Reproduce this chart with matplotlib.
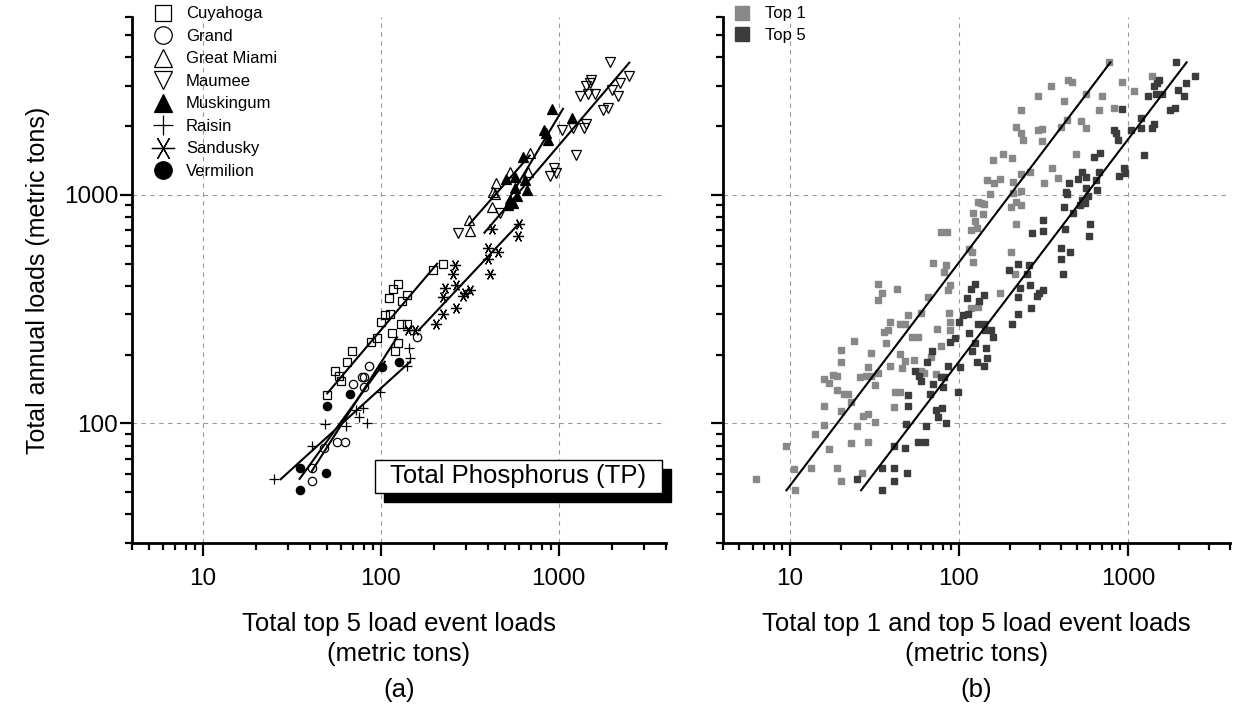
import numpy as np
import matplotlib.pyplot as plt
from matplotlib.ticker import FixedLocator, LogLocator, FuncFormatter, NullFormatter
from matplotlib.patches import Rectangle

plt.rcParams['font.family'] = ['Liberation Sans', 'DejaVu Sans']

# ---- panel (a): top 5 event loads vs annual loads, per river (metric tons)
cuyahoga_x = [224, 197, 125, 117, 111, 131, 140, 105, 113, 100, 130, 140, 115, 95, 88, 125, 120, 69, 65, 55, 58, 60, 50]
cuyahoga_y = [500, 470, 406, 388, 354, 343, 366, 297, 301, 278, 271, 271, 249, 236, 228, 225, 208, 208, 185, 169, 161, 154, 133]

grand_x = [78, 81, 86, 70, 80, 159, 57, 63, 48, 41, 41]
grand_y = [159, 159, 178, 149, 145, 238, 83, 83, 78, 64, 56]

great_miami_x = [316, 314, 419, 437, 446, 531, 687, 672, 428]
great_miami_y = [697, 777, 889, 1010, 1125, 1257, 1523, 1253, 1034]

maumee_x = [272, 470, 890, 944, 960, 1242, 1420, 1390, 1200, 1040, 1780, 1890, 1310, 1460, 1600, 1430,
            1490, 1520, 1980, 2160, 2200, 1930, 2490]
maumee_y = [683, 830, 1204, 1309, 1250, 1496, 2050, 1960, 1960, 1930, 2360, 2400, 2700, 2750, 2750, 2990,
            3100, 3180, 2870, 2700, 3100, 3800, 3310]

muskingum_x = [922, 1190, 850, 870, 632, 508, 567, 645, 660, 567, 531, 554, 518, 580, 830]
muskingum_y = [2380, 2160, 1870, 1740, 1470, 1170, 1200, 1160, 1050, 1070, 950, 920, 900, 990, 1930]

raisin_x = [99, 79, 73, 75, 84, 64, 48.5, 41, 25, 140, 144, 146]
raisin_y = [137, 117, 115, 107, 100, 97, 99, 80, 57, 178, 213, 193]

sandusky_x = [260, 254, 229, 264, 224, 296, 316, 290, 266, 224, 205, 155, 142, 423, 400, 456, 400, 413, 600, 592]
sandusky_y = [493, 449, 391, 402, 357, 372, 385, 360, 320, 301, 271, 256, 256, 707, 583, 564, 524, 449, 745, 663]

vermilion_x = [35, 35, 49, 50, 67, 101, 127]
vermilion_y = [64, 51, 61, 119, 135, 176, 186]

# ---- panel (b): top 1 event loads vs annual loads (top 5 = all rivers of panel a)
top1_x = [771, 442, 468, 352, 294, 419, 563, 699, 916, 1090, 676, 829, 234, 218, 232, 239, 294, 308, 310, 403,
          438, 526, 563, 495, 357, 383, 318, 262, 234, 208, 234, 208, 182, 206, 159, 147, 162, 176, 152, 218,
          234, 204, 129, 135, 140, 121, 138, 125, 117, 128, 78, 85, 218, 204, 215, 115, 119, 121, 70, 84,
          81, 89, 86, 176, 1380,
          33, 35, 33, 43, 66, 129, 60, 50, 39, 36, 38, 45, 48, 37, 24, 20, 20, 30, 29, 33,
          39, 45, 48, 46, 53, 57, 74, 78, 87, 88, 89, 62, 68, 54, 73, 26, 28, 30, 32, 16,
          17, 18, 19, 19, 21, 22, 23, 16, 20, 27, 29, 32, 25, 16, 14, 17, 9.5, 10.5, 13.4, 19,
          20, 26.5, 23, 29, 10.7, 6.3, 41, 42, 45, 60, 118]
top1_y = [3800, 3170, 3110, 2985, 2715, 2565, 2750, 2715, 3110, 2840, 2360, 2400, 2345, 1972, 1862, 1740, 1927, 1941, 1713, 1972,
          2131, 2098, 1960, 1513, 1310, 1183, 1132, 1253, 1236, 1144, 1045, 1024, 1507, 1449, 1414, 1156, 1125, 1175, 1010, 935,
          904, 889, 935, 919, 910, 837, 826, 771, 703, 714, 686, 686, 746, 563, 451, 578, 560, 511, 502, 493,
          461, 403, 385, 373, 3300,
          407, 371, 347, 388, 359, 323, 303, 297, 279, 250, 257, 273, 273, 226, 230, 210, 186, 203, 177, 166,
          179, 201, 188, 174, 240, 238, 258, 218, 303, 277, 257, 166, 196, 190, 165, 160, 161, 161, 147, 156,
          150, 163, 161, 140, 135, 135, 124, 119, 113, 108, 110, 101, 97, 98, 90, 77, 80, 63, 64, 64,
          56, 61, 82, 83, 51, 57, 118, 137, 137, 169, 319]

rivers = ['Cuyahoga', 'Grand', 'Great Miami', 'Maumee', 'Muskingum', 'Raisin', 'Sandusky', 'Vermilion']
river_x = [cuyahoga_x, grand_x, great_miami_x, maumee_x, muskingum_x, raisin_x, sandusky_x, vermilion_x]
river_y = [cuyahoga_y, grand_y, great_miami_y, maumee_y, muskingum_y, raisin_y, sandusky_y, vermilion_y]
markers = ['s', 'o', '^', 'v', '^', '+', (6, 2, 90), 'o']
filled = [False, False, False, False, True, True, True, True]
msizes = [5.5, 6, 6.5, 6.5, 6.5, 7, 8, 6]

top5_x = np.concatenate(river_x)
top5_y = np.concatenate(river_y)


def fitline(ax, x, y):
    # reduced major axis line in log-log space, over the range of the data
    lx, ly = np.log10(x), np.log10(y)
    m = np.std(ly) / np.std(lx)
    b = ly.mean() - m * lx.mean()
    xs = np.array([(ly.min() - b) / m, (ly.max() - b) / m])
    xs = np.clip(xs, lx.min(), lx.max())
    ax.plot(10 ** xs, 10 ** (m * xs + b), color='k', lw=1.5, zorder=4)


def style(ax, ylabels=True):
    ax.set_xscale('log')
    ax.set_yscale('log')
    ax.set_xlim(4, 4000)
    ax.set_ylim(30, 6000)
    for s in ['top', 'right']:
        ax.spines[s].set_visible(False)
    for s in ['left', 'bottom']:
        ax.spines[s].set_linewidth(2)
    ax.xaxis.set_major_locator(FixedLocator([10, 100, 1000]))
    ax.yaxis.set_major_locator(FixedLocator([100, 1000]))
    ax.xaxis.set_minor_locator(LogLocator(base=10, subs=np.arange(2, 10)))
    ax.yaxis.set_minor_locator(LogLocator(base=10, subs=np.arange(2, 10)))
    fmt = FuncFormatter(lambda v, p: '%g' % v)
    ax.xaxis.set_major_formatter(fmt)
    ax.xaxis.set_minor_formatter(NullFormatter())
    ax.yaxis.set_minor_formatter(NullFormatter())
    if ylabels:
        ax.yaxis.set_major_formatter(fmt)
    else:
        ax.yaxis.set_major_formatter(NullFormatter())
    ax.tick_params(which='major', length=9, width=1.6, labelsize=17.5)
    ax.tick_params(axis='x', which='major', pad=9)
    ax.tick_params(axis='y', which='major', pad=1)
    ax.tick_params(which='minor', length=5, width=1.6)
    ax.grid(which='major', ls=(0, (4, 4)), color='#999999', lw=0.8)
    ax.set_axisbelow(True)


fig = plt.figure(figsize=(12.38, 7.09), dpi=100)
axa = fig.add_axes([0.1066, 0.2342, 0.4313, 0.7418])
axb = fig.add_axes([0.5838, 0.2342, 0.4095, 0.7418])

# ---- (a)
style(axa)
for name, x, y, mk, fl, ms in zip(rivers, river_x, river_y, markers, filled, msizes):
    axa.plot(x, y, ls='none', marker=mk, ms=ms, mec='k', mfc='k' if fl else 'none',
             mew=0.9, label=name, zorder=3)
for x, y in zip(river_x, river_y):
    fitline(axa, x, y)

axa.legend(loc='upper left', bbox_to_anchor=(0.042, 1.02), frameon=False, fontsize=12,
           markerscale=2.1, handlelength=1.0, handletextpad=0.9, labelspacing=0.45,
           borderaxespad=0, borderpad=0)

axa.set_ylabel('Total annual loads (metric tons)', fontsize=18, labelpad=10)
axa.set_xlabel('Total top 5 load event loads\n(metric tons)', fontsize=18.5, labelpad=16,
               linespacing=1.3)

# boxed label with drop shadow
axa.add_patch(Rectangle((0.4551 + 0.0169, 0.0956 - 0.0171), 0.5369, 0.0622, transform=axa.transAxes,
                        facecolor='k', edgecolor='k', clip_on=False, zorder=5))
axa.add_patch(Rectangle((0.4551, 0.0956), 0.5369, 0.0622, transform=axa.transAxes,
                        facecolor='white', edgecolor='k', lw=1, clip_on=False, zorder=6))
axa.text(0.7235, 0.1267, 'Total Phosphorus (TP)', transform=axa.transAxes, fontsize=18.5,
         ha='center', va='center', zorder=7)

# ---- (b)
style(axb, ylabels=False)
axb.plot(top1_x, top1_y, ls='none', marker='s', ms=4.8, mfc='#888888', mec='#888888', label='Top 1', zorder=3)
axb.plot(top5_x, top5_y, ls='none', marker='s', ms=4.8, mfc='#3c3c3c', mec='#3c3c3c', label='Top 5', zorder=3)
fitline(axb, top1_x, top1_y)
fitline(axb, top5_x, top5_y)
axb.legend(loc='upper left', bbox_to_anchor=(0.021, 1.02), frameon=False, fontsize=12,
           markerscale=2.0, handlelength=1.0, handletextpad=0.9, labelspacing=0.4,
           borderaxespad=0, borderpad=0)
axb.set_xlabel('Total top 1 and top 5 load event loads\n(metric tons)', fontsize=18.5, labelpad=16,
               linespacing=1.3)

fig.text(399 / 1238, 0.027, '(a)', fontsize=18.5, ha='center', va='center')
fig.text(976 / 1238, 0.027, '(b)', fontsize=18.5, ha='center', va='center')

fig.savefig('out.png', dpi=100)
